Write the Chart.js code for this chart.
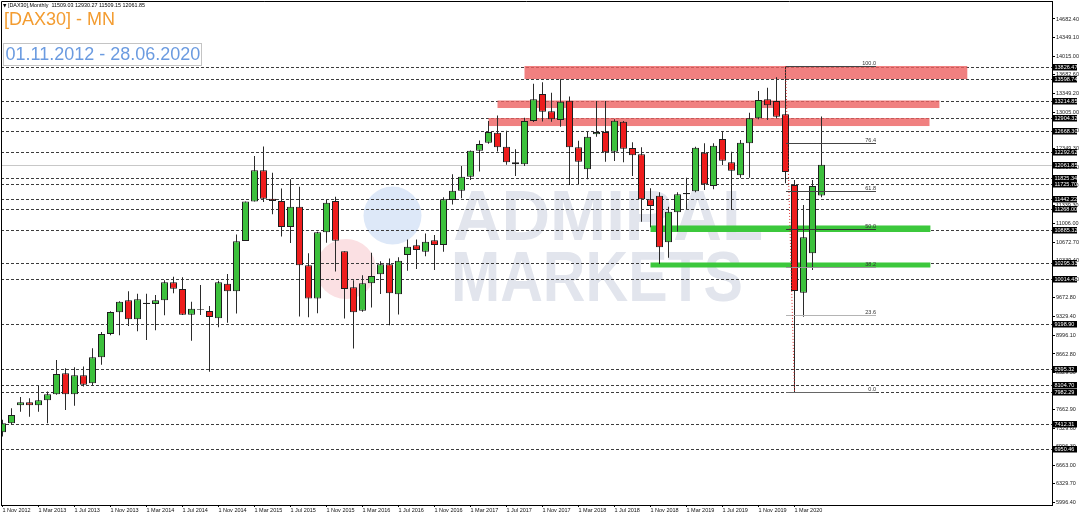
<!DOCTYPE html>
<html lang="en">
<head>
<meta charset="UTF-8">
<title>[DAX30] - MN</title>
<script src="https://cdn.jsdelivr.net/npm/chart.js"></script>
<style>
  body { margin: 0; background: #fff; }
  #wrap { position: relative; width: 1080px; height: 516px; overflow: hidden; }
  canvas { display: block; }
  .hdr { position: absolute; font-family: "Liberation Sans", Arial, sans-serif; white-space: pre; }
  #info { left: 3px; top: 2px; font-size: 5.4px; line-height: 7px; color: #000; }
  #info span { font-family: "DejaVu Sans", sans-serif; font-size: 4.5px; }
  #title { left: 4px; top: 10.3px; font-size: 18px; line-height: 18px; color: #f39c30; }
  #range { left: 3px; top: 42.5px; padding: 0 1px 0 1.5px; border: 1px solid #c4c4c4; font-size: 18px; line-height: 21px; color: #6b9be0; }
</style>
</head>
<body>
<div id="wrap">
  <canvas id="dax" width="1080" height="516"></canvas>
  <div class="hdr" id="info"><span>&#9660;</span> [DAX30],Monthly  11509.03 12930.27 11509.15 12061.85</div>
  <div class="hdr" id="title">[DAX30] - MN</div>
  <div class="hdr" id="range">01.11.2012 - 28.06.2020</div>
</div>
<script>
    // monthly candles, Nov 2012 .. Jun 2020 (one value per month)
    const openP = [
        7256, 7417, 7741, 7795, 7741, 7831, 7939, 8315, 7939, 8280, 8136, 8603,
        9022, 9412, 9628, 9286, 9584, 9562, 9628, 9951, 9830, 9369, 9458, 9435,
        9304, 9926, 9789, 10694, 11401, 11966, 11454, 11413, 10945, 11309, 10259, 9660,
        10850, 11412, 10508, 9861, 9441, 9933, 10095, 10275, 9736, 10442, 10616, 10501,
        10705, 10621, 11430, 11597, 11849, 12316, 12460, 12639, 12389, 12107, 12071, 12850,
        13335, 13024, 12868, 13214, 12377, 11982, 12611, 12652, 12298, 12837, 12364, 12251,
        11443, 11507, 10670, 11209, 11532, 11586, 12280, 11682, 12526, 12107, 11874, 12449,
        12898, 13240, 13209, 12970, 11700, 9764, 10472, 11509
    ];
    const highP = [
        7480, 7687, 7890, 7867, 8088, 7990, 8555, 8405, 8424, 8440, 8766, 9060,
        9430, 9610, 9790, 9745, 9745, 9723, 9990, 10051, 10041, 9602, 9903, 9525,
        9980, 10101, 10810, 11401, 12219, 12391, 11920, 11635, 11802, 11670, 10473, 10860,
        11430, 11490, 10510, 9990, 10080, 10480, 10330, 10380, 10400, 10720, 10720, 10827,
        10800, 11480, 11893, 12041, 12320, 12500, 12850, 12950, 12676, 12340, 12907, 13520,
        13545, 13358, 13599, 13290, 12496, 12657, 13209, 13209, 12880, 12850, 12467, 12377,
        11641, 11569, 11310, 11570, 11832, 12388, 12450, 12450, 12670, 12298, 12508, 13000,
        13388, 13448, 13635, 13838, 11789, 11340, 11790, 12930
    ];
    const lowP = [
        7180, 7390, 7626, 7536, 7626, 7418, 7930, 7657, 7734, 8080, 8095, 8470,
        9000, 9000, 9166, 9071, 8915, 9089, 9360, 9753, 9363, 8902, 9364, 8345,
        9142, 9225, 9390, 10693, 11401, 11392, 11172, 10776, 10657, 9338, 9325, 9397,
        10663, 10143, 9300, 8760, 9420, 9500, 9740, 9180, 9374, 10160, 10190, 10420,
        10170, 10500, 11350, 11460, 11790, 11940, 12440, 12300, 12064, 11861, 12040, 12830,
        12839, 12837, 12747, 11700, 11717, 11802, 12567, 12118, 12131, 12107, 11861, 11040,
        10940, 10280, 10393, 10862, 11268, 11570, 11610, 11621, 12059, 11250, 11830, 11830,
        12880, 12867, 12898, 11730, 7980, 9333, 10172, 11480
    ];
    const closeP = [
        7417, 7567, 7795, 7741, 7831, 7939, 8303, 7939, 8280, 8111, 8603, 9022,
        9417, 9603, 9286, 9646, 9562, 9628, 9951, 9836, 9369, 9477, 9470, 9328,
        9951, 9789, 10690, 11401, 11966, 11454, 11413, 10945, 11309, 10259, 9660, 10850,
        11382, 10699, 9831, 9412, 9933, 10064, 10275, 9754, 10339, 10591, 10531, 10681,
        10621, 11443, 11597, 11849, 12316, 12436, 12652, 12377, 12107, 12071, 12850, 13240,
        13017, 12880, 13196, 12377, 12118, 12567, 12652, 12287, 12855, 12352, 12233, 11443,
        11322, 10580, 11220, 11532, 11556, 12370, 11712, 12406, 12136, 11957, 12460, 12898,
        13227, 13132, 12927, 11933, 9795, 10759, 11682, 12062
    ];

    const timeLabels = [
        '1 Nov 2012', '1 Mar 2013', '1 Jul 2013', '1 Nov 2013', '1 Mar 2014', '1 Jul 2014',
        '1 Nov 2014', '1 Mar 2015', '1 Jul 2015', '1 Nov 2015', '1 Mar 2016', '1 Jul 2016',
        '1 Nov 2016', '1 Mar 2017', '1 Jul 2017', '1 Nov 2017', '1 Mar 2018', '1 Jul 2018',
        '1 Nov 2018', '1 Mar 2019', '1 Jul 2019', '1 Nov 2019', '1 Mar 2020'
    ];
    const yTicks = [
        5996.40, 6329.70, 6663.00, 6996.30, 7329.60, 7662.90, 7996.20, 8329.50, 8662.80,
        8996.10, 9329.40, 9672.80, 10006.10, 10339.40, 10672.70, 11006.00, 11339.30, 11682.60,
        12016.00, 12349.30, 12682.70, 13005.00, 13349.20, 13682.60, 14015.00, 14349.10, 14682.40
    ];

    // horizontal price levels (dotted lines + black price tags)
    const levelPrices = [
        13826.47, 13598.74, 13214.85, 12904.32, 12668.30, 12292.62, 11825.34, 11725.70,
        11442.22, 11268.00, 10885.32, 10295.33, 10014.48, 9198.90, 8395.32, 8104.70,
        7982.29, 7412.31, 6950.46
    ];
    const lastPrice = 12061.85;

    // zones: [from bar, to bar, upper price, lower price]
    const redZones = [
        [58, 107.2, 13838, 13604],
        [55, 104.1, 13218, 13083],
        [54, 103.0, 12903, 12759]
    ];
    const greenZones = [
        [72, 103.1, 10972, 10855],
        [72, 103.1, 10307, 10217]
    ];

    // fibonacci retracement Feb 2020 high -> Mar 2020 low
    const fibHigh = { bar: 87, price: 13838 };
    const fibLow = { bar: 88, price: 7980 };
    const fibEndBar = 97.05;
    const fibLevels = [0, 23.6, 38.2, 50.0, 61.8, 76.4, 100.0];
    const fibColors = ['#666', '#b4b4b4', '#999', '#333', '#444', '#444', '#444'];

    const BULL = '#3cc03c';
    const BEAR = '#ee1c1c';
    const FONT = '"Liberation Sans", Arial, sans-serif';

    const X_MIN = -0.1667;
    const X_MAX = X_MIN + 1051 / 9;
    const Y_MIN = 5949.45;
    const Y_MAX = 15005.83;

    const idx = openP.map((_, i) => i);
    const bodies = idx.map(i => ({ x: i, y: [openP[i], closeP[i]] }));
    const wicks = idx.map(i => ({ x: i, y: [lowP[i], highP[i]] }));
    const bodyColors = idx.map(i => closeP[i] >= openP[i] ? BULL : BEAR);

    const overlay = {
        id: 'overlay',
        beforeDatasetsDraw(chart) {
            const { ctx, chartArea: a, scales: { x, y } } = chart;
            ctx.save();
            ctx.beginPath();
            ctx.rect(a.left, a.top, a.right - a.left, a.bottom - a.top);
            ctx.clip();

            // watermark
            ctx.fillStyle = '#fbe0e3';
            ctx.beginPath(); ctx.arc(346, 269, 30, 0, Math.PI * 2); ctx.fill();
            ctx.fillStyle = '#dde8f8';
            ctx.beginPath(); ctx.arc(392.5, 215.5, 29, 0, Math.PI * 2); ctx.fill();
            ctx.fillStyle = '#e2e5ed';
            ctx.font = 'bold 70px ' + FONT;
            ctx.textAlign = 'left';
            ctx.textBaseline = 'alphabetic';
            ctx.fillText('ADMIRAL', 453, 240, 310);
            ctx.fillText('MARKETS', 451, 300.5, 292);

            // last price line
            const yl = Math.round(y.getPixelForValue(lastPrice)) + 0.5;
            ctx.strokeStyle = '#c8c8c8';
            ctx.lineWidth = 1;
            ctx.beginPath(); ctx.moveTo(a.left, yl); ctx.lineTo(a.right, yl); ctx.stroke();

            // dotted levels
            ctx.strokeStyle = '#3c3c3c';
            ctx.setLineDash([3, 2]);
            levelPrices.forEach(p => {
                const py = Math.round(y.getPixelForValue(p)) + 0.5;
                ctx.beginPath(); ctx.moveTo(a.left, py); ctx.lineTo(a.right, py); ctx.stroke();
            });
            ctx.setLineDash([]);

            // zones
            const zone = (z, color) => {
                const x0 = x.getPixelForValue(z[0]), x1 = x.getPixelForValue(z[1]);
                const y0 = y.getPixelForValue(z[2]), y1 = y.getPixelForValue(z[3]);
                ctx.fillStyle = color;
                ctx.fillRect(x0, y0, x1 - x0, y1 - y0);
            };
            redZones.forEach(z => zone(z, 'rgba(236, 96, 96, 0.8)'));
            greenZones.forEach(z => zone(z, '#3cc83c'));
            ctx.restore();
        },
        afterDatasetsDraw(chart) {
            const { ctx, scales: { x, y } } = chart;
            ctx.save();
            const xs = Math.round(x.getPixelForValue(fibHigh.bar));
            const xe = Math.round(x.getPixelForValue(fibEndBar));
            ctx.font = '5.5px ' + FONT;
            ctx.textAlign = 'right';
            ctx.textBaseline = 'alphabetic';
            fibLevels.forEach((r, k) => {
                const p = fibLow.price + r / 100 * (fibHigh.price - fibLow.price);
                const py = Math.round(y.getPixelForValue(p)) + 0.5;
                ctx.strokeStyle = fibColors[k];
                ctx.lineWidth = 1;
                ctx.beginPath(); ctx.moveTo(xs, py); ctx.lineTo(xe, py); ctx.stroke();
                ctx.fillStyle = '#333';
                ctx.fillText(r.toFixed(1), xe, py - 1.5);
            });
            // trend line of the retracement
            ctx.strokeStyle = '#e03030';
            ctx.setLineDash([1, 2]);
            ctx.beginPath();
            ctx.moveTo(x.getPixelForValue(fibHigh.bar), y.getPixelForValue(fibHigh.price));
            ctx.lineTo(x.getPixelForValue(fibLow.bar), y.getPixelForValue(fibLow.price));
            ctx.stroke();
            ctx.restore();
        },
        afterDraw(chart) {
            const { ctx, chartArea: a, scales: { y } } = chart;
            ctx.save();
            ctx.strokeStyle = '#000';
            ctx.lineWidth = 1;
            ctx.beginPath();
            ctx.moveTo(a.left + 0.5, a.bottom);
            ctx.lineTo(a.left + 0.5, a.top + 0.5);
            ctx.lineTo(a.right, a.top + 0.5);
            ctx.stroke();

            // black price tags on the axis
            ctx.font = '5.5px ' + FONT;
            ctx.textAlign = 'left';
            ctx.textBaseline = 'middle';
            levelPrices.concat([lastPrice]).forEach(p => {
                const py = Math.round(y.getPixelForValue(p));
                ctx.fillStyle = '#000';
                ctx.fillRect(a.right + 1, py - 3, 24, 6.5);
                ctx.fillStyle = '#fff';
                ctx.fillText(p.toFixed(2), a.right + 2.5, py + 0.3);
            });
            ctx.restore();
        }
    };

    Chart.defaults.font.family = FONT;

    const ctx = document.getElementById('dax').getContext('2d');
    const daxChart = new Chart(ctx, {
        type: 'bar',
        data: {
            datasets: [
                {
                    label: 'body',
                    data: bodies,
                    backgroundColor: bodyColors,
                    borderColor: '#1e1e1e',
                    borderWidth: 1,
                    borderSkipped: false,
                    inflateAmount: 0,
                    barThickness: 7,
                    grouped: false,
                    order: 0
                },
                {
                    label: 'wick',
                    data: wicks,
                    backgroundColor: '#2b2b2b',
                    borderWidth: 0,
                    inflateAmount: 0,
                    barThickness: 1,
                    grouped: false,
                    order: 1
                }
            ]
        },
        options: {
            responsive: false,
            maintainAspectRatio: false,
            devicePixelRatio: 1,
            animation: false,
            events: [],
            layout: { padding: { left: 1, top: 1, right: 0, bottom: 0 }, autoPadding: false },
            plugins: { legend: { display: false }, tooltip: { enabled: false } },
            scales: {
                x: {
                    type: 'linear',
                    min: X_MIN,
                    max: X_MAX,
                    offset: false,
                    bounds: 'data',
                    grid: { drawOnChartArea: false, tickLength: 2, color: '#000', offset: false },
                    border: { display: true, color: '#000' },
                    ticks: {
                        autoSkip: false,
                        maxRotation: 0,
                        align: 'start',
                        padding: 0,
                        color: '#111',
                        font: { size: 5.5 },
                        callback: (v, i) => timeLabels[i]
                    },
                    afterBuildTicks: s => { s.ticks = timeLabels.map((t, k) => ({ value: k * 4 })); },
                    afterFit: s => { s.height = 11; s.paddingLeft = 0; s.paddingRight = 0; }
                },
                y: {
                    type: 'linear',
                    position: 'right',
                    min: Y_MIN,
                    max: Y_MAX,
                    bounds: 'data',
                    grid: { drawOnChartArea: false, tickLength: 3, color: '#000' },
                    border: { display: true, color: '#000' },
                    ticks: {
                        autoSkip: false,
                        padding: 1,
                        color: '#222',
                        font: { size: 5.5 },
                        callback: v => v.toFixed(2)
                    },
                    afterBuildTicks: s => { s.ticks = yTicks.map(v => ({ value: v })); },
                    afterFit: s => { s.width = 28; s.paddingTop = 0; s.paddingBottom = 0; }
                }
            }
        },
        plugins: [overlay]
    });
</script>
</body>
</html>
